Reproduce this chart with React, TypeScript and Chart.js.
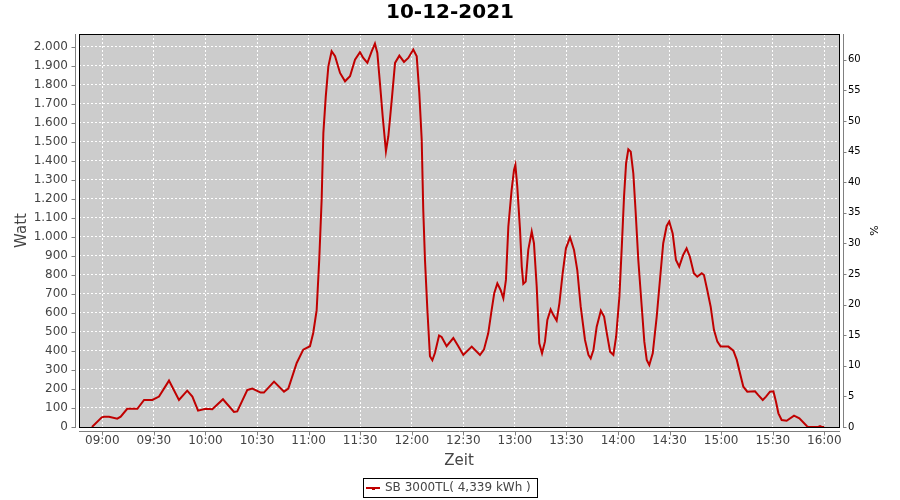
import React, { useEffect, useRef } from "react";
import { Chart, registerables } from "chart.js";

Chart.register(...registerables);

const TITLE = "10-12-2021";
const SERIES_LABEL = "SB 3000TL( 4,339 kWh )";
const X_TITLE = "Zeit";
const Y_TITLE = "Watt";
const Y1_TITLE = "%";

// minutes after midnight
const minutes = [
  534.0, 539.7, 541.0, 543.9, 548.7, 550.7, 554.5, 560.4, 564.3, 569.1, 573.0, 578.8,
  584.6, 589.4, 592.4, 595.7, 600.1, 604.0, 610.2, 616.6, 618.5, 624.4, 627.3, 632.1,
  634.0, 639.9, 645.7, 648.2, 653.1, 656.9, 660.8, 662.7, 664.7, 666.2, 667.6, 668.6,
  670.0, 671.5, 673.4, 675.4, 678.3, 681.2, 684.1, 687.0, 689.9, 691.8, 694.2, 696.7,
  698.6, 700.0, 701.5, 703.1, 705.0, 706.4, 708.4, 710.3, 712.8, 715.5, 718.0, 720.9,
  722.9, 724.4, 725.8, 726.7, 727.7, 729.1, 730.6, 732.0, 733.5, 735.9, 737.4, 740.3,
  744.2, 747.1, 750.0, 754.9, 759.7, 762.0, 764.5, 766.5, 768.0, 769.8, 771.7, 773.3,
  774.8, 776.2, 778.1, 779.5, 780.3, 781.4, 783.0, 784.0, 784.9, 786.3, 787.8, 789.8,
  791.1, 792.7, 794.2, 795.8, 797.5, 798.9, 800.8, 802.4, 804.3, 805.9, 807.8, 809.7,
  812.1, 814.4, 816.3, 818.3, 820.8, 822.8, 824.1, 825.7, 827.6, 830.0, 831.9, 833.5,
  835.4, 837.3, 838.9, 840.8, 842.2, 843.5, 844.7, 846.0, 847.4, 848.9, 850.3, 851.8,
  853.8, 855.3, 856.7, 858.2, 860.2, 862.5, 864.4, 866.3, 868.3, 869.8, 871.8, 873.7,
  875.6, 877.9, 879.9, 881.8, 884.1, 886.1, 888.7, 890.0, 891.9, 893.9, 895.8, 897.8,
  899.7, 904.2, 907.1, 909.1, 911.0, 912.9, 915.2, 919.7, 921.6, 924.2, 926.1, 928.4,
  930.4, 931.9, 933.3, 935.2, 938.1, 942.4, 945.5, 949.8, 950.7, 956.5, 957.5, 958.5,
  960.0,
];

const watts = [
  0, 51, 54, 54, 44, 54, 96, 96, 142, 142, 160, 244,
  142, 191, 160, 86, 96, 93, 146, 79, 82, 195, 202, 181,
  181, 239, 186, 202, 337, 407, 425, 495, 615, 881, 1196, 1547,
  1740, 1898, 1977, 1951, 1863, 1819, 1846, 1933, 1972, 1942, 1916, 1977,
  2017, 1968, 1811, 1635, 1451, 1530, 1723, 1916, 1954, 1921, 1942, 1986,
  1951, 1758, 1512, 1144, 881, 617, 372, 351, 389, 481, 474, 425,
  468, 425, 379, 423, 379, 407, 493, 616, 704, 756, 721, 677,
  774, 1054, 1247, 1353, 1379, 1265, 1037, 844, 753, 765, 932, 1028,
  967, 739, 440, 388, 449, 563, 619, 589, 560, 651, 809, 940,
  998, 932, 826, 633, 458, 379, 361, 405, 528, 612, 581, 493,
  396, 379, 475, 686, 949, 1212, 1388, 1461, 1449, 1335, 1125, 879,
  633, 449, 353, 326, 388, 580, 775, 967, 1058, 1081, 1019, 879,
  844, 905, 940, 896, 809, 791, 809, 800, 721, 633, 511, 449,
  423, 423, 402, 353, 282, 212, 186, 188, 168, 142, 160, 186,
  188, 133, 72, 37, 33, 60, 46, 5, 0, 0, 5, 0,
  0,
];

const xTicks = [540, 570, 600, 630, 660, 690, 720, 750, 780, 810, 840, 870, 900, 930, 960];
const wattTicks = [0, 100, 200, 300, 400, 500, 600, 700, 800, 900, 1000, 1100, 1200, 1300, 1400, 1500, 1600, 1700, 1800, 1900, 2000];
const percentTicks = [0, 5, 10, 15, 20, 25, 30, 35, 40, 45, 50, 55, 60];

const FONT = "'DejaVu Sans', sans-serif";

function fmtTime(m: number): string {
  const h = Math.floor(m / 60);
  const mm = Math.round(m - h * 60);
  return String(h).padStart(2, "0") + ":" + String(mm).padStart(2, "0");
}
function fmtWatt(v: number): string {
  if (v >= 1000) {
    return Math.floor(v / 1000) + "." + String(v % 1000).padStart(3, "0");
  }
  return String(v);
}

const framePlugin = {
  id: "frame",
  beforeDraw(chart: any) {
    const { ctx, chartArea: a } = chart;
    ctx.save();
    ctx.fillStyle = "#ffffff";
    ctx.fillRect(0, 0, chart.width, chart.height);
    ctx.fillStyle = "#cccccc";
    ctx.fillRect(a.left, a.top, a.right - a.left, a.bottom - a.top);
    ctx.restore();
  },
  beforeDatasetsDraw(chart: any) {
    const { ctx, chartArea: a } = chart;
    ctx.save();
    ctx.strokeStyle = "#000000";
    ctx.lineWidth = 1;
    ctx.strokeRect(a.left + 0.5, a.top + 0.5, a.right - a.left, a.bottom - a.top);
    ctx.restore();
  },
  afterDraw(chart: any) {
    const { ctx, chartArea: a, scales } = chart;
    ctx.save();
    // axis lines
    ctx.strokeStyle = "#808080";
    ctx.lineWidth = 1;
    const lx = a.left - 3.5;
    const by = a.bottom + 4.5;
    const rx = a.right + 4.5;
    ctx.beginPath();
    ctx.moveTo(lx, a.top);
    ctx.lineTo(lx, a.bottom + 1);
    ctx.moveTo(a.left, by);
    ctx.lineTo(a.right + 1, by);
    ctx.moveTo(rx, a.top);
    ctx.lineTo(rx, a.bottom + 1);
    // tick marks
    for (const v of wattTicks) {
      const y = Math.round(scales.y.getPixelForValue(v)) + 0.5;
      ctx.moveTo(lx - 4, y);
      ctx.lineTo(lx, y);
    }
    for (const v of percentTicks) {
      const y = Math.round(scales.y1.getPixelForValue(v)) + 0.5;
      ctx.moveTo(rx, y);
      ctx.lineTo(rx + 3, y);
    }
    for (const v of xTicks) {
      const x = Math.round(scales.x.getPixelForValue(v)) + 0.5;
      ctx.moveTo(x, by);
      ctx.lineTo(x, by + 4);
    }
    ctx.stroke();

    // title
    ctx.fillStyle = "#000000";
    ctx.font = "bold 20px " + FONT;
    ctx.textAlign = "center";
    ctx.textBaseline = "middle";
    ctx.fillText(TITLE, 450, 13);

    // axis titles
    const cx = (a.left + a.right) / 2;
    const cy = (a.top + a.bottom) / 2;
    ctx.fillStyle = "#444444";
    ctx.font = "15px " + FONT;
    ctx.textBaseline = "alphabetic";
    ctx.fillText(X_TITLE, cx, 465);
    ctx.save();
    ctx.translate(26, cy);
    ctx.rotate(-Math.PI / 2);
    ctx.fillText(Y_TITLE, 0, 0);
    ctx.restore();

    ctx.save();
    ctx.fillStyle = "#000000";
    ctx.font = "11px " + FONT;
    ctx.translate(878, cy);
    ctx.rotate(-Math.PI / 2);
    ctx.fillText(Y1_TITLE, 0, 0);
    ctx.restore();

    // legend
    const boxL = 363.5, boxT = 478.5, boxW = 174, boxH = 19;
    ctx.strokeStyle = "#000000";
    ctx.lineWidth = 1;
    ctx.strokeRect(boxL, boxT, boxW, boxH);
    const ly = boxT + boxH / 2;
    ctx.strokeStyle = "#c00000";
    ctx.lineWidth = 2;
    ctx.beginPath();
    ctx.moveTo(366, ly);
    ctx.lineTo(380, ly);
    ctx.stroke();
    ctx.fillStyle = "#c00000";
    ctx.fillRect(372, ly - 1, 3, 3);
    ctx.fillStyle = "#444444";
    ctx.font = "12px " + FONT;
    ctx.textAlign = "left";
    ctx.textBaseline = "middle";
    ctx.fillText(SERIES_LABEL, 385, ly);
    ctx.restore();
  },
};

export default function App() {
  const ref = useRef<HTMLCanvasElement | null>(null);
  useEffect(() => {
    if (!ref.current) return;
    const chart = new Chart(ref.current, {
      type: "line",
      data: {
        datasets: [
          {
            label: SERIES_LABEL,
            data: minutes.map((m, i) => ({ x: m, y: watts[i] })),
            borderColor: "#c00000",
            borderWidth: 2,
            pointRadius: 0,
            tension: 0,
            fill: false,
            yAxisID: "y",
          },
        ],
      },
      options: {
        responsive: false,
        animation: false,
        devicePixelRatio: 1,
        parsing: false as any,
        layout: { padding: { top: 34, left: 0, right: 0, bottom: 0 } },
        plugins: {
          legend: { display: false },
          title: { display: false },
          tooltip: { enabled: false },
        },
        scales: {
          x: {
            type: "linear",
            position: "bottom",
            min: 526.45,
            max: 968.55,
            afterBuildTicks: (s: any) => {
              s.ticks = xTicks.map((v) => ({ value: v }));
            },
            afterFit: (s: any) => {
              s.height = 73;
            },
            grid: { color: "#ffffff", lineWidth: 1, drawTicks: false },
            border: { display: false, dash: [2, 2] },
            ticks: {
              padding: 7,
              color: "#444444",
              font: { family: FONT, size: 12 },
              maxRotation: 0,
              autoSkip: false,
              callback: (v: any) => fmtTime(Number(v)),
            },
          },
          y: {
            type: "linear",
            position: "left",
            min: 0,
            max: 2068,
            afterBuildTicks: (s: any) => {
              s.ticks = wattTicks.map((v) => ({ value: v }));
            },
            afterFit: (s: any) => {
              s.width = 79;
            },
            grid: { color: "#ffffff", lineWidth: 1, drawTicks: false },
            border: { display: false, dash: [2, 2] },
            ticks: {
              padding: 11,
              color: "#444444",
              font: { family: FONT, size: 12 },
              autoSkip: false,
              callback: (v: any) => fmtWatt(Number(v)),
            },
          },
          y1: {
            type: "linear",
            position: "right",
            min: 0,
            max: 64.2,
            afterBuildTicks: (s: any) => {
              s.ticks = percentTicks.map((v) => ({ value: v }));
            },
            afterFit: (s: any) => {
              s.width = 61;
            },
            grid: { display: false, drawTicks: false },
            border: { display: false },
            ticks: {
              padding: 9,
              color: "#000000",
              font: { family: FONT, size: 10 },
              autoSkip: false,
            },
          },
        },
      } as any,
      plugins: [framePlugin],
    });
    return () => chart.destroy();
  }, []);
  return (
    <div style={{ position: "fixed", left: 0, top: 0, width: 900, height: 500 }}>
      <canvas ref={ref} width={900} height={500} style={{ display: "block" }} />
    </div>
  );
}
